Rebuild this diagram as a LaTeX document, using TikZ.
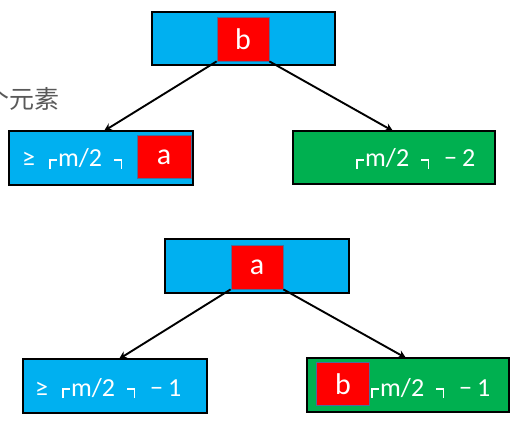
\documentclass[tikz,border=0pt]{standalone}
\usepackage{fontspec}
\setmainfont{Carlito}
\newfontfamily\cjk{Noto Sans CJK SC}
\usetikzlibrary{arrows.meta}
\definecolor{cyanbox}{HTML}{00B0F0}
\definecolor{greenbox}{HTML}{00B050}
\definecolor{redbox}{HTML}{FF0000}
\definecolor{redborder}{HTML}{4A6E9A}
\definecolor{graytext}{HTML}{595959}
\newcommand{\lcb}{\mbox{\rule[-2pt]{1.6pt}{10pt}\rule[6.4pt]{6.4pt}{1.6pt}}}
\newcommand{\rcb}{\mbox{\rule[6.4pt]{6.4pt}{1.6pt}\rule[-2pt]{1.6pt}{10pt}}}
\newcommand{\ceilm}{\lcb\hspace{1pt}m/2\hspace{12pt}\rcb}
\newcommand{\minusn}[1]{\hspace{15pt}−\hspace{5pt}#1}
\tikzset{
  x=1pt, y=-1pt,
  bluebox/.style={draw=black, line width=1.4pt, fill=cyanbox, rectangle, inner sep=0pt},
  greenbx/.style={draw=black, line width=1.4pt, fill=greenbox, rectangle, inner sep=0pt},
  keysq/.style={draw=redborder, line width=0.8pt, fill=redbox, rectangle, inner sep=0pt,
     text=white, font=\fontsize{30}{31}\selectfont},
  lbl/.style={text=white, inner sep=0pt, font=\fontsize{26}{27}\selectfont},
  arr/.style={draw=black, line width=1.9pt, -{Stealth[length=8pt,width=8pt]}},
}
\begin{document}
\begin{tikzpicture}
\useasboundingbox (0,0) rectangle (528,425);
\begin{scope}
\clip (0,0) rectangle (528,425);
\node[anchor=west, inner sep=0pt, text=graytext, font=\cjk\fontsize{25}{26}\selectfont] (note) at (-16,99) {个元素};
\end{scope}
% upper tree
\path[bluebox] (152,12) rectangle (335,65) node[pos=0.5] (T1) {};
\node[keysq, minimum width=52pt, minimum height=44pt] (R1) at (243,39) {b};
\path[bluebox] (9,131) rectangle (193,185) node[pos=0.5] (L1) {};
\coordinate (L1n) at (104,131);
\node[keysq, minimum width=54pt, minimum height=43pt] (A1) at (164,157) {a};
\node[lbl, anchor=base west] (t1) at (22,167) {≥\hspace{14pt}\ceilm};
\path[greenbx] (293,131) rectangle (495,184) node[pos=0.5] (G1) {};
\coordinate (G1n) at (393,131);
\node[lbl, anchor=base west] (t2) at (356,167) {\ceilm\minusn{2}};
\draw[arr] (R1.south west) -- (L1n);
\draw[arr] (R1.south east) -- (G1n);
% lower tree
\path[bluebox] (165,239) rectangle (349,293) node[pos=0.5] (T2) {};
\node[keysq, minimum width=52pt, minimum height=44pt] (R2) at (257,267) {a};
\path[bluebox] (23,359) rectangle (207,413) node[pos=0.5] (L2) {};
\coordinate (L2n) at (119,359);
\node[lbl, anchor=base west] (t3) at (35,396) {≥\hspace{14pt}\ceilm\minusn{1}};
\path[greenbx] (307,358) rectangle (509,412) node[pos=0.5] (G2) {};
\coordinate (G2n) at (406,358);
\node[keysq, minimum width=53pt, minimum height=43pt] (B2) at (343,384) {b};
\node[lbl, anchor=base west] (t4) at (371,396) {\ceilm\minusn{1}};
\draw[arr] (R2.south west) -- (L2n);
\draw[arr] (R2.south east) -- (G2n);
\end{tikzpicture}
\end{document}
